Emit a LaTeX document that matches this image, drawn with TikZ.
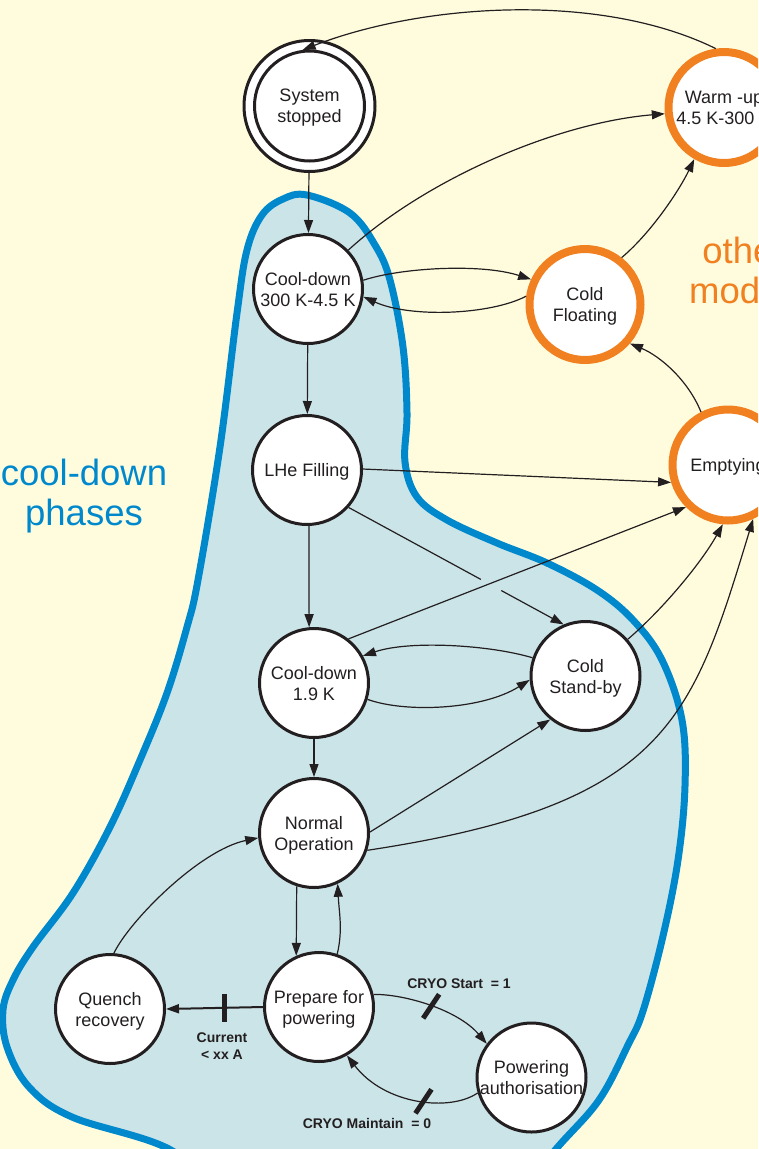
\documentclass[tikz,border=0pt]{standalone}
\usepackage{fontspec}
\setmainfont{Liberation Sans}
\usetikzlibrary{arrows.meta}
\definecolor{paper}{RGB}{255,252,222}
\definecolor{zonefill}{RGB}{203,228,232}
\definecolor{zoneline}{RGB}{0,136,204}
\definecolor{modeorange}{RGB}{240,128,32}
\definecolor{ink}{RGB}{35,31,32}
\begin{document}
\begin{tikzpicture}[x=1pt,y=-1pt,
  state/.style={circle, draw=ink, line width=3pt, fill=white, minimum size=109pt,
    inner sep=0pt, align=center, text=ink, text depth=0pt,
    font=\fontsize{18}{21}\selectfont},
  othermode/.style={state, draw=modeorange, line width=8pt, minimum size=111pt},
  link/.style={draw=ink, line width=1.2pt, -{Triangle[length=13pt,width=9pt]}},
  plain/.style={draw=ink, line width=1.2pt},
  guardbar/.style={draw=ink, line width=5pt},
  guard/.style={text=ink, align=center, inner sep=0pt,
    font=\fontsize{14}{17}\selectfont\bfseries},
  bigtitle/.style={align=center, inner sep=0pt, font=\fontsize{36.5}{40}\selectfont}]

% page and background
\useasboundingbox (0,0) rectangle (758,1149);
\clip (0,0) rectangle (758,1149);
\fill[paper] (0,0) rectangle (758,1149);

% the cool-down zone
\draw[zoneline, line width=7pt, fill=zonefill] plot[smooth cycle, tension=0.6] coordinates {
  (307,195) (350,213) (375,245) (390,280) (403,347) (407,413) (405,462) (417,497)
  (447,520) (497,543) (547,563) (597,590) (633,620) (662,660) (682,720) (685,786)
  (678,860) (663,936) (643,1011) (628,1045) (599,1100) (556,1149) (500,1215)
  (350,1240) (230,1200) (169,1149) (72,1117) (29,1087) (7,1047) (3,1010) (13,980)
  (33,947) (73,893) (110,827) (140,760) (167,693) (187,627) (198,580) (220,447)
  (237,313) (247,250) (262,215) (283,199)};

% zone titles
\node[bigtitle, text=zoneline] (titlecd) at (84,496) {cool-down\\phases};
\node[bigtitle, text=modeorange] (titleom) at (744,270) {other\\modes};

% states
\node[state, minimum size=131pt] (ssring) at (309.5,106) {};
\node[state, minimum size=110pt] (ss) at (309.5,106) {System\\stopped};
\node[othermode] (wu) at (724,107.5) {Warm -up\\4.5 K-300 K};
\node[state] (cd300) at (308,289) {Cool-down\\300 K-4.5 K};
\node[othermode] (cf) at (585,304.5) {Cold\\Floating};
\node[state] (lhe) at (307,470) {LHe Filling};
\node[othermode] (emp) at (728,465) {Emptying};
\node[state] (cd19) at (314,683) {Cool-down\\1.9 K};
\node[state] (csb) at (585.5,676) {Cold\\Stand-by};
\node[state] (no) at (314,833) {Normal\\Operation};
\node[state] (qr) at (110,1009) {Quench\\recovery};
\node[state] (pp) at (319,1007) {Prepare for\\powering};
\node[state] (pa) at (531.5,1077.5) {Powering\\authorisation};

% transitions between the upper states
\draw[link] (wu.98) .. controls (601,-8) and (424,3) .. (ss.97);
\draw[link] (ssring) -- (cd300);
\draw[link] (cd300.44) .. controls (425,180) and (555,123) .. (wu.186);
\draw[link] (cd300.9) .. controls (400,268) and (480,263) .. (cf.155);
\draw[link] (cf.172) .. controls (490,315) and (410,318) .. (cd300.352);
\draw[link] (cf.52) .. controls (652,232) and (680,189) .. (wu.240);
\draw[link] (cd300) -- (lhe);
\draw[link] (emp.117) .. controls (688,380) and (660,356) .. (cf.319);
\draw[link] (lhe.1) -- (emp.197);

% LHe Filling to Cold Stand-by, broken where it crosses
\path (lhe.318) -- (csb.113) coordinate[pos=0.615] (gapa) coordinate[pos=0.71] (gapb);
\draw[plain] (lhe.318) -- (gapa);
\draw[link] (gapb) -- (csb.113);

\draw[link] (lhe.272) -- (cd19.95);
\draw[link] (cd19.52) -- (emp.225);
\draw[link] (csb.161) .. controls (490,645) and (410,640) .. (cd19.29);
\draw[link] (cd19.343) .. controls (405,713) and (482,710) .. (csb.184);
\draw[link] (csb.41) .. controls (660,612) and (700,565) .. (emp.265);
\draw[link] (no.342) .. controls (667,805) and (692,720) .. (emp.295);
\draw[link] (cd19) -- (no);
\draw[link] (no.1) -- (csb.231);

% powering sequence
\draw[link] (no.252) -- (pp.114);
\draw[link] (pp.71) .. controls (343,930) and (339,912) .. (no.295);
\draw[link] (qr.86) .. controls (130,920) and (200,850) .. (no.185);

\draw[link, line width=2pt] (pp.west) -- (qr.east) coordinate[pos=0.4] (barcur);
\draw[guardbar] ([yshift=14pt]barcur) -- ([yshift=-14pt]barcur);
\node[guard] (lblcur) at (222,1046) {Current\\< xx A};

\draw[link] (pp.13) .. controls (405,994) and (458,1010) .. (pa.143)
  coordinate[pos=0.5] (barstart);
\draw[guardbar] ([shift={(-8,12)}]barstart) -- ([shift={(8,-12)}]barstart);
\node[guard] (lblstart) at (459,984) {CRYO Start\ \ = 1};

\draw[link] (pa.196) .. controls (450,1112) and (385,1105) .. (pp.300)
  coordinate[pos=0.45] (barkeep);
\draw[guardbar] ([shift={(-8,12)}]barkeep) -- ([shift={(8,-12)}]barkeep);
\node[guard] (lblkeep) at (367,1123) {CRYO Maintain\ \ = 0};
\end{tikzpicture}
\end{document}
